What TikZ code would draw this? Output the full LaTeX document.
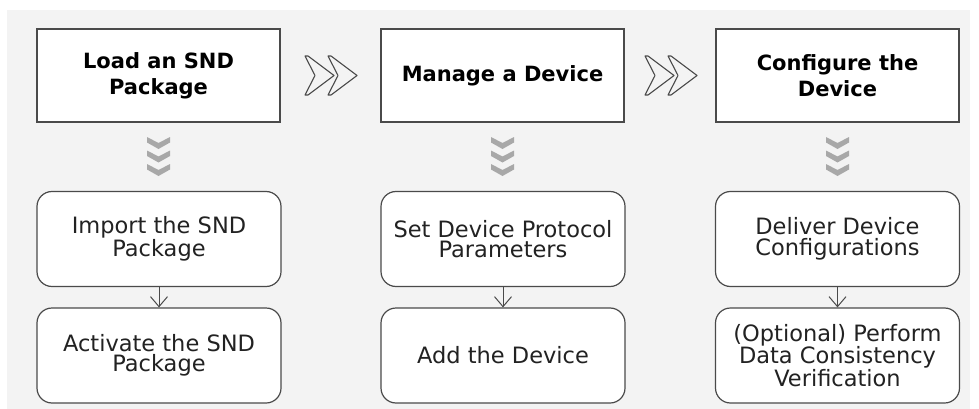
\documentclass[tikz,border=0pt]{standalone}
\usepackage{fontspec}
\setmainfont{DejaVu Sans}
\usetikzlibrary{arrows.meta}
\definecolor{panel}{HTML}{F3F3F3}
\definecolor{edge}{HTML}{4A4A4A}
\definecolor{chevfill}{HTML}{A8A8A8}
\definecolor{txt}{HTML}{222222}
\begin{document}
\begin{tikzpicture}[x=1pt,y=-1pt,
  stage/.style={draw=edge, line width=1.3pt, fill=white, minimum width=243pt, minimum height=93pt,
    font=\fontsize{21}{26}\selectfont\bfseries, align=center, inner sep=0pt, text=black},
  task/.style={draw=edge, line width=1.2pt, fill=white, rounded corners=15pt, minimum width=244pt,
    minimum height=95pt, font=\fontsize{22.5}{20.5}\selectfont, align=center, inner sep=0pt, text=txt},
  conn/.style={draw=edge, line width=1pt, -{Straight Barb[length=10pt,width=17pt,line width=1pt]}},
  rchev/.pic={
    \foreach \dx in {0,23}{
      \draw[edge, line width=1.1pt, line join=round]
        (\dx,0) -- (\dx+3,0) -- (\dx+29,19.5) -- (\dx+3,39) -- (\dx,39) -- (\dx+10,19.5) -- cycle;
    }
  },
  dchev/.pic={
    \foreach \dy in {0,13.5,27}{
      \fill[chevfill] (-11.5,\dy) -- (0,\dy+6) -- (11.5,\dy) -- (11.5,\dy+5.5) -- (0,\dy+12) -- (-11.5,\dy+5.5) -- cycle;
    }
  }
]
\useasboundingbox (0,0) rectangle (979,409);
\fill[panel] (7,10) rectangle (970,409);

\node[stage] (s1) at (158.5,75.5) {Load an SND\\Package};
\node[stage] (s2) at (502.5,75.5) {Manage a Device};
\node[stage] (s3) at (837.5,75.5) {Configure the\\Device};

\node[task] (a1) at (159,239) {Import the SND\\Package};
\node[task] (a2) at (159,355.5) {Activate the SND\\Package};
\node[task] (b1) at (503,239) {Set Device Protocol\\Parameters};
\node[task] (b2) at (503,355.5) {Add the Device};
\node[task] (c1) at (837.5,239) {Deliver Device\\Configurations};
\node[task] (c2) at (837.5,355.5) {(Optional) Perform\\Data Consistency\\Verification};

\draw[conn] (a1) -- (a2);
\draw[conn] (b1) -- (b2);
\draw[conn] (c1) -- (c2);

\pic at (305,56) {rchev};
\pic at (645,56) {rchev};

\pic at (158.5,137) {dchev};
\pic at (502.5,137) {dchev};
\pic at (837.5,137) {dchev};
\end{tikzpicture}
\end{document}
